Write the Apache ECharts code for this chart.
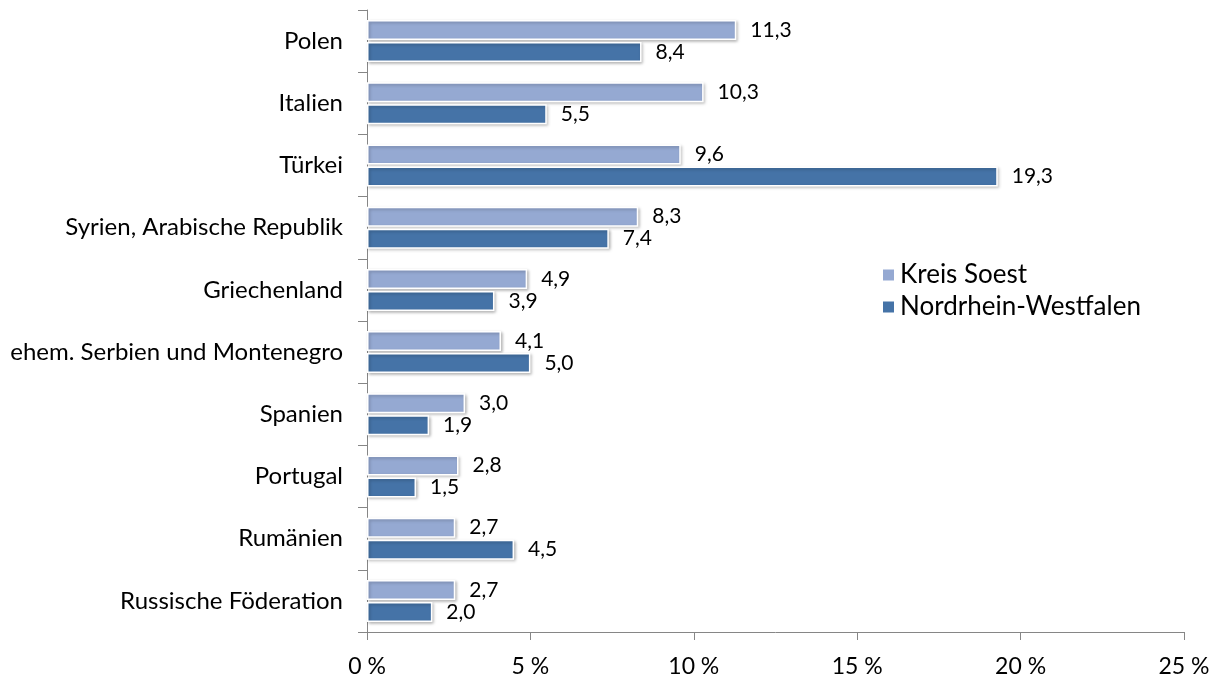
<!DOCTYPE html>
<html><head><meta charset="utf-8">
<script src="https://cdn.jsdelivr.net/npm/echarts@6/dist/echarts.min.js"></script>
<style>html,body{margin:0;padding:0;background:#fff}#c{width:1219px;height:679px}</style>
</head><body><div id="c"></div>
<script>
const categories = ["Polen","Italien","Türkei","Syrien, Arabische Republik","Griechenland","ehem. Serbien und Montenegro","Spanien","Portugal","Rumänien","Russische Föderation"];
const kreisSoest = [11.3,10.3,9.6,8.3,4.9,4.1,3.0,2.8,2.7,2.7];
const nrw = [8.4,5.5,19.3,7.4,3.9,5.0,1.9,1.5,4.5,2.0];
const xTicks = [0,5,10,15,20,25];
const FONT = "Lato";
const chart = echarts.init(document.getElementById('c'));
const fmt = v => v.toFixed(1).replace('.', ',');
function series(name, data, color){
  return {name, type:'bar', data, barWidth:20, barGap:'10%',
    itemStyle:{color, borderColor:'#fff', borderWidth:1.5, shadowColor:'rgba(0,0,0,0.25)', shadowBlur:3, shadowOffsetX:1.5, shadowOffsetY:1.5},
    label:{show:true, position:'right', distance:14, formatter:p=>fmt(p.value), fontFamily:FONT, fontSize:21, color:'#000'}};
}
chart.setOption({
  animation:false,
  grid:{left:367, right:35, top:10, bottom:47, containLabel:false},
  legend:{orient:'vertical', left:876, top:257, itemWidth:13, itemHeight:13, itemGap:6, icon:'rect',
    textStyle:{fontFamily:FONT, fontSize:26, color:'#000'}, data:['Kreis Soest','Nordrhein-Westfalen']},
  xAxis:{type:'value', min:xTicks[0], max:xTicks[xTicks.length-1], interval:5,
    axisLine:{show:true, lineStyle:{color:'#868686', width:1}},
    axisTick:{show:true, length:8, inside:false, lineStyle:{color:'#868686'}},
    splitLine:{show:false},
    axisLabel:{formatter:v=>v+' %', fontFamily:FONT, fontSize:23, color:'#000', margin:23}},
  yAxis:{type:'category', data:categories, inverse:true,
    axisLine:{show:true, lineStyle:{color:'#868686', width:1}},
    axisTick:{show:true, length:9, lineStyle:{color:'#868686'}},
    axisLabel:{fontFamily:FONT, fontSize:24, color:'#000', margin:24}},
  series:[series('Kreis Soest', kreisSoest, '#95A9D2'), series('Nordrhein-Westfalen', nrw, '#4573A7')]
});
</script></body></html>
